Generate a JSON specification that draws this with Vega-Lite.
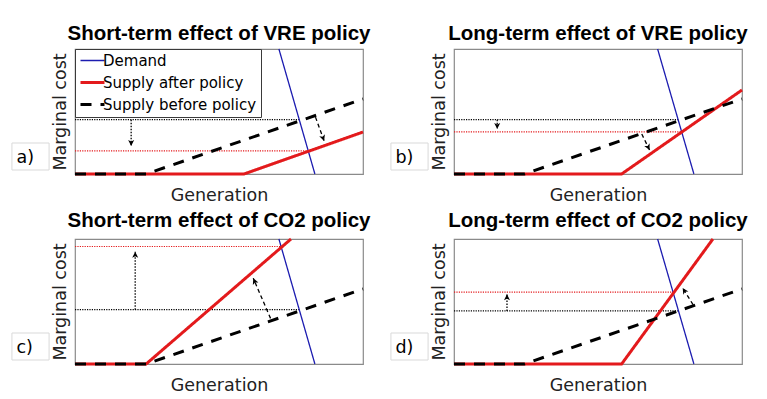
{
  "$schema": "https://vega.github.io/schema/vega-lite/v6.json",
  "background": "white",
  "padding": {"left": 10, "top": 23, "right": 5, "bottom": 5},
  "bounds": "flush",
  "spacing": {"row": 65, "column": 91},
  "columns": 2,
  "datasets": {
    "curves": [
      {"panel": "a", "series": "Demand", "x": 70.8, "y": 100},
      {"panel": "a", "series": "Demand", "x": 83.3, "y": 0},
      {"panel": "a", "series": "Supply after policy", "x": 0, "y": 0},
      {"panel": "a", "series": "Supply after policy", "x": 58.7, "y": 0},
      {"panel": "a", "series": "Supply after policy", "x": 100, "y": 33.6},
      {"panel": "a", "series": "Supply before policy", "x": 0, "y": 0},
      {"panel": "a", "series": "Supply before policy", "x": 24.7, "y": 0},
      {"panel": "a", "series": "Supply before policy", "x": 100, "y": 60},
      {"panel": "b", "series": "Demand", "x": 70.7, "y": 100},
      {"panel": "b", "series": "Demand", "x": 83.3, "y": 0},
      {"panel": "b", "series": "Supply after policy", "x": 0, "y": 0},
      {"panel": "b", "series": "Supply after policy", "x": 58.2, "y": 0},
      {"panel": "b", "series": "Supply after policy", "x": 100, "y": 67.2},
      {"panel": "b", "series": "Supply before policy", "x": 0, "y": 0},
      {"panel": "b", "series": "Supply before policy", "x": 24.4, "y": 0},
      {"panel": "b", "series": "Supply before policy", "x": 100, "y": 60},
      {"panel": "c", "series": "Demand", "x": 70.8, "y": 100},
      {"panel": "c", "series": "Demand", "x": 83.3, "y": 0},
      {"panel": "c", "series": "Supply after policy", "x": 0, "y": 0},
      {"panel": "c", "series": "Supply after policy", "x": 24.7, "y": 0},
      {"panel": "c", "series": "Supply after policy", "x": 75, "y": 100},
      {"panel": "c", "series": "Supply before policy", "x": 0, "y": 0},
      {"panel": "c", "series": "Supply before policy", "x": 24.7, "y": 0},
      {"panel": "c", "series": "Supply before policy", "x": 100, "y": 60},
      {"panel": "d", "series": "Demand", "x": 70.7, "y": 100},
      {"panel": "d", "series": "Demand", "x": 83.3, "y": 0},
      {"panel": "d", "series": "Supply after policy", "x": 0, "y": 0},
      {"panel": "d", "series": "Supply after policy", "x": 58.2, "y": 0},
      {"panel": "d", "series": "Supply after policy", "x": 89.9, "y": 100},
      {"panel": "d", "series": "Supply before policy", "x": 0, "y": 0},
      {"panel": "d", "series": "Supply before policy", "x": 24.4, "y": 0},
      {"panel": "d", "series": "Supply before policy", "x": 100, "y": 60}
    ],
    "guides": [
      {"panel": "a", "kind": "before", "x0": 0, "x1": 78, "y": 43.5},
      {"panel": "a", "kind": "after", "x0": 0, "x1": 81, "y": 18.5},
      {"panel": "b", "kind": "before", "x0": 0, "x1": 78, "y": 43.5},
      {"panel": "b", "kind": "after", "x0": 0, "x1": 79.2, "y": 33.7},
      {"panel": "c", "kind": "before", "x0": 0, "x1": 78, "y": 43.5},
      {"panel": "c", "kind": "after", "x0": 0, "x1": 71.5, "y": 94},
      {"panel": "d", "kind": "before", "x0": 0, "x1": 78, "y": 42.5},
      {"panel": "d", "kind": "after", "x0": 0, "x1": 76.2, "y": 57.5}
    ],
    "arrows": [
      {"panel": "a", "kind": "dotted", "x0": 19.5, "y0": 43.5, "x1": 19.5, "y1": 22.4},
      {"panel": "a", "kind": "dashed", "x0": 83.5, "y0": 45.5, "x1": 86.5, "y1": 26.5},
      {"panel": "b", "kind": "dotted", "x0": 15, "y0": 43.5, "x1": 15, "y1": 36},
      {"panel": "b", "kind": "dashed", "x0": 65.2, "y0": 32, "x1": 67.9, "y1": 19.2},
      {"panel": "c", "kind": "dotted", "x0": 20.9, "y0": 43.5, "x1": 20.9, "y1": 89.8},
      {"panel": "c", "kind": "dashed", "x0": 67.9, "y0": 36.5, "x1": 61.9, "y1": 68.6},
      {"panel": "d", "kind": "dotted", "x0": 18.4, "y0": 42.5, "x1": 18.4, "y1": 55.8},
      {"panel": "d", "kind": "dashed", "x0": 83, "y0": 47.5, "x1": 79.4, "y1": 60.8}
    ],
    "labels": [
      {"panel": "a", "label": "a)", "x": -21.9, "x2": -9, "y": 3.2, "y2": 24.8},
      {"panel": "b", "label": "b)", "x": -21.9, "x2": -9, "y": 3.2, "y2": 24.8},
      {"panel": "c", "label": "c)", "x": -21.9, "x2": -9, "y": 3.2, "y2": 24.8},
      {"panel": "d", "label": "d)", "x": -21.9, "x2": -9, "y": 3.2, "y2": 24.8}
    ]
  },
  "resolve": {
    "scale": {"color": "independent", "strokeDash": "independent"},
    "legend": {"color": "independent", "strokeDash": "independent"}
  },
  "concat": [
    {
      "width": 288, "height": 125,
      "title": "Short-term effect of VRE policy",
      "layer": [
        {"data": {"name": "labels"}, "transform": [{"filter": "datum.panel === 'a'"}],
         "mark": {"type": "rect", "fill": "white", "stroke": "#d9d9d9", "strokeWidth": 1, "clip": false},
         "encoding": {"x": {"field": "x", "type": "quantitative", "scale": {"domain": [0, 100], "nice": false, "zero": false}, "title": "Generation"},
                      "x2": {"field": "x2"},
                      "y": {"field": "y", "type": "quantitative", "scale": {"domain": [0, 100], "nice": false, "zero": false}, "title": "Marginal cost"},
                      "y2": {"field": "y2"}}},
        {"data": {"name": "labels"}, "transform": [{"filter": "datum.panel === 'a'"}],
         "mark": {"type": "text", "align": "left", "baseline": "alphabetic", "dx": 4.5, "dy": -7, "font": "DejaVu Sans", "fontSize": 17.5, "color": "#000", "clip": false},
         "encoding": {"x": {"field": "x", "type": "quantitative", "scale": {"domain": [0, 100]}, "title": "Generation"},
                      "y": {"field": "y", "type": "quantitative", "scale": {"domain": [0, 100]}, "title": "Marginal cost"},
                      "text": {"field": "label"}}},
        {"data": {"name": "guides"}, "transform": [{"filter": "datum.panel === 'a' && datum.kind === 'before'"}],
         "mark": {"type": "rule", "strokeDash": [1.2, 1.2], "strokeWidth": 1.2, "color": "#000000"},
         "encoding": {"x": {"field": "x0", "type": "quantitative", "scale": {"domain": [0, 100]}, "title": "Generation"},
                      "x2": {"field": "x1"},
                      "y": {"field": "y", "type": "quantitative", "scale": {"domain": [0, 100]}, "title": "Marginal cost"}}},
        {"data": {"name": "guides"}, "transform": [{"filter": "datum.panel === 'a' && datum.kind === 'after'"}],
         "mark": {"type": "rule", "strokeDash": [1.2, 1.2], "strokeWidth": 1.2, "color": "#e31a1c"},
         "encoding": {"x": {"field": "x0", "type": "quantitative", "scale": {"domain": [0, 100]}, "title": "Generation"},
                      "x2": {"field": "x1"},
                      "y": {"field": "y", "type": "quantitative", "scale": {"domain": [0, 100]}, "title": "Marginal cost"}}},
        {"data": {"name": "arrows"}, "transform": [{"filter": "datum.panel === 'a' && datum.kind === 'dotted'"}],
         "mark": {"type": "rule", "strokeDash": [1.5, 1.5], "strokeWidth": 1.3, "color": "#000"},
         "encoding": {"x": {"field": "x0", "type": "quantitative", "scale": {"domain": [0, 100]}, "title": "Generation"},
                      "x2": {"field": "x1"},
                      "y": {"field": "y0", "type": "quantitative", "scale": {"domain": [0, 100]}, "title": "Marginal cost"},
                      "y2": {"field": "y1"}}},
        {"data": {"name": "arrows"}, "transform": [{"filter": "datum.panel === 'a' && datum.kind === 'dashed'"}],
         "mark": {"type": "rule", "strokeDash": [4, 3], "strokeWidth": 1.3, "color": "#000"},
         "encoding": {"x": {"field": "x0", "type": "quantitative", "scale": {"domain": [0, 100]}, "title": "Generation"},
                      "x2": {"field": "x1"},
                      "y": {"field": "y0", "type": "quantitative", "scale": {"domain": [0, 100]}, "title": "Marginal cost"},
                      "y2": {"field": "y1"}}},
        {"data": {"name": "arrows"}, "transform": [{"filter": "datum.panel === 'a' && datum.kind === 'dotted'"}],
         "mark": {"type": "point", "shape": "M0,0L-1,-2L0,-1.5L1,-2Z", "filled": true, "size": 36, "color": "#000", "opacity": 1, "angle": 0},
         "encoding": {"x": {"field": "x1", "type": "quantitative", "scale": {"domain": [0, 100]}, "title": "Generation"},
                      "y": {"field": "y1", "type": "quantitative", "scale": {"domain": [0, 100]}, "title": "Marginal cost"}}},
        {"data": {"name": "arrows"}, "transform": [{"filter": "datum.panel === 'a' && datum.kind === 'dashed'"}],
         "mark": {"type": "point", "shape": "M0,0L-1,-2L0,-1.5L1,-2Z", "filled": true, "size": 36, "color": "#000", "opacity": 1, "angle": -20},
         "encoding": {"x": {"field": "x1", "type": "quantitative", "scale": {"domain": [0, 100]}, "title": "Generation"},
                      "y": {"field": "y1", "type": "quantitative", "scale": {"domain": [0, 100]}, "title": "Marginal cost"}}},
        {"data": {"name": "curves"}, "transform": [{"filter": "datum.panel === 'a' && datum.series === 'Demand'"}],
         "mark": {"type": "line", "strokeWidth": 1.3},
         "encoding": {"x": {"field": "x", "type": "quantitative", "scale": {"domain": [0, 100]}, "title": "Generation"},
                      "y": {"field": "y", "type": "quantitative", "scale": {"domain": [0, 100]}, "title": "Marginal cost"},
                      "color": {"field": "series", "type": "nominal", "title": null, "scale": {"domain": ["Demand", "Supply after policy", "Supply before policy"], "range": ["#1c1cb0", "#e31a1c", "#000000"]},
                                "legend": {"orient": "top-left", "encode": {"symbols": {"update": {"strokeWidth": {"signal": "datum.value === 'Demand' ? 1.3 : 3"}}}}}},
                      "strokeDash": {"field": "series", "type": "nominal", "title": null, "scale": {"domain": ["Demand", "Supply after policy", "Supply before policy"], "range": [[1, 0], [1, 0], [11, 9]]},
                                "legend": {"orient": "top-left", "encode": {"symbols": {"update": {"strokeWidth": {"signal": "datum.value === 'Demand' ? 1.3 : 3"}}}}}}}},
        {"data": {"name": "curves"}, "transform": [{"filter": "datum.panel === 'a' && datum.series === 'Supply after policy'"}],
         "mark": {"type": "line", "strokeWidth": 3},
         "encoding": {"x": {"field": "x", "type": "quantitative", "scale": {"domain": [0, 100]}, "title": "Generation"},
                      "y": {"field": "y", "type": "quantitative", "scale": {"domain": [0, 100]}, "title": "Marginal cost"},
                      "color": {"field": "series", "type": "nominal", "title": null},
                      "strokeDash": {"field": "series", "type": "nominal", "title": null}}},
        {"data": {"name": "curves"}, "transform": [{"filter": "datum.panel === 'a' && datum.series === 'Supply before policy'"}],
         "mark": {"type": "line", "strokeWidth": 3},
         "encoding": {"x": {"field": "x", "type": "quantitative", "scale": {"domain": [0, 100]}, "title": "Generation"},
                      "y": {"field": "y", "type": "quantitative", "scale": {"domain": [0, 100]}, "title": "Marginal cost"},
                      "color": {"field": "series", "type": "nominal", "title": null},
                      "strokeDash": {"field": "series", "type": "nominal", "title": null}}}
      ]
    },
    {
      "width": 288, "height": 125,
      "title": "Long-term effect of VRE policy",
      "layer": [
        {"data": {"name": "labels"}, "transform": [{"filter": "datum.panel === 'b'"}],
         "mark": {"type": "rect", "fill": "white", "stroke": "#d9d9d9", "strokeWidth": 1, "clip": false},
         "encoding": {"x": {"field": "x", "type": "quantitative", "scale": {"domain": [0, 100], "nice": false, "zero": false}, "title": "Generation"},
                      "x2": {"field": "x2"},
                      "y": {"field": "y", "type": "quantitative", "scale": {"domain": [0, 100], "nice": false, "zero": false}, "title": "Marginal cost"},
                      "y2": {"field": "y2"}}},
        {"data": {"name": "labels"}, "transform": [{"filter": "datum.panel === 'b'"}],
         "mark": {"type": "text", "align": "left", "baseline": "alphabetic", "dx": 4.5, "dy": -7, "font": "DejaVu Sans", "fontSize": 17.5, "color": "#000", "clip": false},
         "encoding": {"x": {"field": "x", "type": "quantitative", "scale": {"domain": [0, 100]}, "title": "Generation"},
                      "y": {"field": "y", "type": "quantitative", "scale": {"domain": [0, 100]}, "title": "Marginal cost"},
                      "text": {"field": "label"}}},
        {"data": {"name": "guides"}, "transform": [{"filter": "datum.panel === 'b' && datum.kind === 'before'"}],
         "mark": {"type": "rule", "strokeDash": [1.2, 1.2], "strokeWidth": 1.2, "color": "#000000"},
         "encoding": {"x": {"field": "x0", "type": "quantitative", "scale": {"domain": [0, 100]}, "title": "Generation"},
                      "x2": {"field": "x1"},
                      "y": {"field": "y", "type": "quantitative", "scale": {"domain": [0, 100]}, "title": "Marginal cost"}}},
        {"data": {"name": "guides"}, "transform": [{"filter": "datum.panel === 'b' && datum.kind === 'after'"}],
         "mark": {"type": "rule", "strokeDash": [1.2, 1.2], "strokeWidth": 1.2, "color": "#e31a1c"},
         "encoding": {"x": {"field": "x0", "type": "quantitative", "scale": {"domain": [0, 100]}, "title": "Generation"},
                      "x2": {"field": "x1"},
                      "y": {"field": "y", "type": "quantitative", "scale": {"domain": [0, 100]}, "title": "Marginal cost"}}},
        {"data": {"name": "arrows"}, "transform": [{"filter": "datum.panel === 'b' && datum.kind === 'dotted'"}],
         "mark": {"type": "rule", "strokeDash": [1.5, 1.5], "strokeWidth": 1.3, "color": "#000"},
         "encoding": {"x": {"field": "x0", "type": "quantitative", "scale": {"domain": [0, 100]}, "title": "Generation"},
                      "x2": {"field": "x1"},
                      "y": {"field": "y0", "type": "quantitative", "scale": {"domain": [0, 100]}, "title": "Marginal cost"},
                      "y2": {"field": "y1"}}},
        {"data": {"name": "arrows"}, "transform": [{"filter": "datum.panel === 'b' && datum.kind === 'dashed'"}],
         "mark": {"type": "rule", "strokeDash": [4, 3], "strokeWidth": 1.3, "color": "#000"},
         "encoding": {"x": {"field": "x0", "type": "quantitative", "scale": {"domain": [0, 100]}, "title": "Generation"},
                      "x2": {"field": "x1"},
                      "y": {"field": "y0", "type": "quantitative", "scale": {"domain": [0, 100]}, "title": "Marginal cost"},
                      "y2": {"field": "y1"}}},
        {"data": {"name": "arrows"}, "transform": [{"filter": "datum.panel === 'b' && datum.kind === 'dotted'"}],
         "mark": {"type": "point", "shape": "M0,0L-1,-2L0,-1.5L1,-2Z", "filled": true, "size": 36, "color": "#000", "opacity": 1, "angle": 0},
         "encoding": {"x": {"field": "x1", "type": "quantitative", "scale": {"domain": [0, 100]}, "title": "Generation"},
                      "y": {"field": "y1", "type": "quantitative", "scale": {"domain": [0, 100]}, "title": "Marginal cost"}}},
        {"data": {"name": "arrows"}, "transform": [{"filter": "datum.panel === 'b' && datum.kind === 'dashed'"}],
         "mark": {"type": "point", "shape": "M0,0L-1,-2L0,-1.5L1,-2Z", "filled": true, "size": 36, "color": "#000", "opacity": 1, "angle": -26},
         "encoding": {"x": {"field": "x1", "type": "quantitative", "scale": {"domain": [0, 100]}, "title": "Generation"},
                      "y": {"field": "y1", "type": "quantitative", "scale": {"domain": [0, 100]}, "title": "Marginal cost"}}},
        {"data": {"name": "curves"}, "transform": [{"filter": "datum.panel === 'b' && datum.series === 'Demand'"}],
         "mark": {"type": "line", "strokeWidth": 1.3},
         "encoding": {"x": {"field": "x", "type": "quantitative", "scale": {"domain": [0, 100]}, "title": "Generation"},
                      "y": {"field": "y", "type": "quantitative", "scale": {"domain": [0, 100]}, "title": "Marginal cost"},
                      "color": {"field": "series", "type": "nominal", "title": null, "scale": {"domain": ["Demand", "Supply after policy", "Supply before policy"], "range": ["#1c1cb0", "#e31a1c", "#000000"]}, "legend": null},
                      "strokeDash": {"field": "series", "type": "nominal", "title": null, "scale": {"domain": ["Demand", "Supply after policy", "Supply before policy"], "range": [[1, 0], [1, 0], [11, 9]]}, "legend": null}}},
        {"data": {"name": "curves"}, "transform": [{"filter": "datum.panel === 'b' && datum.series === 'Supply after policy'"}],
         "mark": {"type": "line", "strokeWidth": 3},
         "encoding": {"x": {"field": "x", "type": "quantitative", "scale": {"domain": [0, 100]}, "title": "Generation"},
                      "y": {"field": "y", "type": "quantitative", "scale": {"domain": [0, 100]}, "title": "Marginal cost"},
                      "color": {"field": "series", "type": "nominal", "title": null, "legend": null},
                      "strokeDash": {"field": "series", "type": "nominal", "title": null, "legend": null}}},
        {"data": {"name": "curves"}, "transform": [{"filter": "datum.panel === 'b' && datum.series === 'Supply before policy'"}],
         "mark": {"type": "line", "strokeWidth": 3},
         "encoding": {"x": {"field": "x", "type": "quantitative", "scale": {"domain": [0, 100]}, "title": "Generation"},
                      "y": {"field": "y", "type": "quantitative", "scale": {"domain": [0, 100]}, "title": "Marginal cost"},
                      "color": {"field": "series", "type": "nominal", "title": null, "legend": null},
                      "strokeDash": {"field": "series", "type": "nominal", "title": null, "legend": null}}}
      ]
    },
    {
      "width": 288, "height": 125,
      "title": "Short-term effect of CO2 policy",
      "layer": [
        {"data": {"name": "labels"}, "transform": [{"filter": "datum.panel === 'c'"}],
         "mark": {"type": "rect", "fill": "white", "stroke": "#d9d9d9", "strokeWidth": 1, "clip": false},
         "encoding": {"x": {"field": "x", "type": "quantitative", "scale": {"domain": [0, 100], "nice": false, "zero": false}, "title": "Generation"},
                      "x2": {"field": "x2"},
                      "y": {"field": "y", "type": "quantitative", "scale": {"domain": [0, 100], "nice": false, "zero": false}, "title": "Marginal cost"},
                      "y2": {"field": "y2"}}},
        {"data": {"name": "labels"}, "transform": [{"filter": "datum.panel === 'c'"}],
         "mark": {"type": "text", "align": "left", "baseline": "alphabetic", "dx": 4.5, "dy": -7, "font": "DejaVu Sans", "fontSize": 17.5, "color": "#000", "clip": false},
         "encoding": {"x": {"field": "x", "type": "quantitative", "scale": {"domain": [0, 100]}, "title": "Generation"},
                      "y": {"field": "y", "type": "quantitative", "scale": {"domain": [0, 100]}, "title": "Marginal cost"},
                      "text": {"field": "label"}}},
        {"data": {"name": "guides"}, "transform": [{"filter": "datum.panel === 'c' && datum.kind === 'before'"}],
         "mark": {"type": "rule", "strokeDash": [1.2, 1.2], "strokeWidth": 1.2, "color": "#000000"},
         "encoding": {"x": {"field": "x0", "type": "quantitative", "scale": {"domain": [0, 100]}, "title": "Generation"},
                      "x2": {"field": "x1"},
                      "y": {"field": "y", "type": "quantitative", "scale": {"domain": [0, 100]}, "title": "Marginal cost"}}},
        {"data": {"name": "guides"}, "transform": [{"filter": "datum.panel === 'c' && datum.kind === 'after'"}],
         "mark": {"type": "rule", "strokeDash": [1.2, 1.2], "strokeWidth": 1.2, "color": "#e31a1c"},
         "encoding": {"x": {"field": "x0", "type": "quantitative", "scale": {"domain": [0, 100]}, "title": "Generation"},
                      "x2": {"field": "x1"},
                      "y": {"field": "y", "type": "quantitative", "scale": {"domain": [0, 100]}, "title": "Marginal cost"}}},
        {"data": {"name": "arrows"}, "transform": [{"filter": "datum.panel === 'c' && datum.kind === 'dotted'"}],
         "mark": {"type": "rule", "strokeDash": [1.5, 1.5], "strokeWidth": 1.3, "color": "#000"},
         "encoding": {"x": {"field": "x0", "type": "quantitative", "scale": {"domain": [0, 100]}, "title": "Generation"},
                      "x2": {"field": "x1"},
                      "y": {"field": "y0", "type": "quantitative", "scale": {"domain": [0, 100]}, "title": "Marginal cost"},
                      "y2": {"field": "y1"}}},
        {"data": {"name": "arrows"}, "transform": [{"filter": "datum.panel === 'c' && datum.kind === 'dashed'"}],
         "mark": {"type": "rule", "strokeDash": [4, 3], "strokeWidth": 1.3, "color": "#000"},
         "encoding": {"x": {"field": "x0", "type": "quantitative", "scale": {"domain": [0, 100]}, "title": "Generation"},
                      "x2": {"field": "x1"},
                      "y": {"field": "y0", "type": "quantitative", "scale": {"domain": [0, 100]}, "title": "Marginal cost"},
                      "y2": {"field": "y1"}}},
        {"data": {"name": "arrows"}, "transform": [{"filter": "datum.panel === 'c' && datum.kind === 'dotted'"}],
         "mark": {"type": "point", "shape": "M0,0L-1,-2L0,-1.5L1,-2Z", "filled": true, "size": 36, "color": "#000", "opacity": 1, "angle": 180},
         "encoding": {"x": {"field": "x1", "type": "quantitative", "scale": {"domain": [0, 100]}, "title": "Generation"},
                      "y": {"field": "y1", "type": "quantitative", "scale": {"domain": [0, 100]}, "title": "Marginal cost"}}},
        {"data": {"name": "arrows"}, "transform": [{"filter": "datum.panel === 'c' && datum.kind === 'dashed'"}],
         "mark": {"type": "point", "shape": "M0,0L-1,-2L0,-1.5L1,-2Z", "filled": true, "size": 36, "color": "#000", "opacity": 1, "angle": 157},
         "encoding": {"x": {"field": "x1", "type": "quantitative", "scale": {"domain": [0, 100]}, "title": "Generation"},
                      "y": {"field": "y1", "type": "quantitative", "scale": {"domain": [0, 100]}, "title": "Marginal cost"}}},
        {"data": {"name": "curves"}, "transform": [{"filter": "datum.panel === 'c' && datum.series === 'Demand'"}],
         "mark": {"type": "line", "strokeWidth": 1.3},
         "encoding": {"x": {"field": "x", "type": "quantitative", "scale": {"domain": [0, 100]}, "title": "Generation"},
                      "y": {"field": "y", "type": "quantitative", "scale": {"domain": [0, 100]}, "title": "Marginal cost"},
                      "color": {"field": "series", "type": "nominal", "title": null, "scale": {"domain": ["Demand", "Supply after policy", "Supply before policy"], "range": ["#1c1cb0", "#e31a1c", "#000000"]}, "legend": null},
                      "strokeDash": {"field": "series", "type": "nominal", "title": null, "scale": {"domain": ["Demand", "Supply after policy", "Supply before policy"], "range": [[1, 0], [1, 0], [11, 9]]}, "legend": null}}},
        {"data": {"name": "curves"}, "transform": [{"filter": "datum.panel === 'c' && datum.series === 'Supply after policy'"}],
         "mark": {"type": "line", "strokeWidth": 3},
         "encoding": {"x": {"field": "x", "type": "quantitative", "scale": {"domain": [0, 100]}, "title": "Generation"},
                      "y": {"field": "y", "type": "quantitative", "scale": {"domain": [0, 100]}, "title": "Marginal cost"},
                      "color": {"field": "series", "type": "nominal", "title": null, "legend": null},
                      "strokeDash": {"field": "series", "type": "nominal", "title": null, "legend": null}}},
        {"data": {"name": "curves"}, "transform": [{"filter": "datum.panel === 'c' && datum.series === 'Supply before policy'"}],
         "mark": {"type": "line", "strokeWidth": 3},
         "encoding": {"x": {"field": "x", "type": "quantitative", "scale": {"domain": [0, 100]}, "title": "Generation"},
                      "y": {"field": "y", "type": "quantitative", "scale": {"domain": [0, 100]}, "title": "Marginal cost"},
                      "color": {"field": "series", "type": "nominal", "title": null, "legend": null},
                      "strokeDash": {"field": "series", "type": "nominal", "title": null, "legend": null}}}
      ]
    },
    {
      "width": 288, "height": 125,
      "title": "Long-term effect of CO2 policy",
      "layer": [
        {"data": {"name": "labels"}, "transform": [{"filter": "datum.panel === 'd'"}],
         "mark": {"type": "rect", "fill": "white", "stroke": "#d9d9d9", "strokeWidth": 1, "clip": false},
         "encoding": {"x": {"field": "x", "type": "quantitative", "scale": {"domain": [0, 100], "nice": false, "zero": false}, "title": "Generation"},
                      "x2": {"field": "x2"},
                      "y": {"field": "y", "type": "quantitative", "scale": {"domain": [0, 100], "nice": false, "zero": false}, "title": "Marginal cost"},
                      "y2": {"field": "y2"}}},
        {"data": {"name": "labels"}, "transform": [{"filter": "datum.panel === 'd'"}],
         "mark": {"type": "text", "align": "left", "baseline": "alphabetic", "dx": 4.5, "dy": -7, "font": "DejaVu Sans", "fontSize": 17.5, "color": "#000", "clip": false},
         "encoding": {"x": {"field": "x", "type": "quantitative", "scale": {"domain": [0, 100]}, "title": "Generation"},
                      "y": {"field": "y", "type": "quantitative", "scale": {"domain": [0, 100]}, "title": "Marginal cost"},
                      "text": {"field": "label"}}},
        {"data": {"name": "guides"}, "transform": [{"filter": "datum.panel === 'd' && datum.kind === 'before'"}],
         "mark": {"type": "rule", "strokeDash": [1.2, 1.2], "strokeWidth": 1.2, "color": "#000000"},
         "encoding": {"x": {"field": "x0", "type": "quantitative", "scale": {"domain": [0, 100]}, "title": "Generation"},
                      "x2": {"field": "x1"},
                      "y": {"field": "y", "type": "quantitative", "scale": {"domain": [0, 100]}, "title": "Marginal cost"}}},
        {"data": {"name": "guides"}, "transform": [{"filter": "datum.panel === 'd' && datum.kind === 'after'"}],
         "mark": {"type": "rule", "strokeDash": [1.2, 1.2], "strokeWidth": 1.2, "color": "#e31a1c"},
         "encoding": {"x": {"field": "x0", "type": "quantitative", "scale": {"domain": [0, 100]}, "title": "Generation"},
                      "x2": {"field": "x1"},
                      "y": {"field": "y", "type": "quantitative", "scale": {"domain": [0, 100]}, "title": "Marginal cost"}}},
        {"data": {"name": "arrows"}, "transform": [{"filter": "datum.panel === 'd' && datum.kind === 'dotted'"}],
         "mark": {"type": "rule", "strokeDash": [1.5, 1.5], "strokeWidth": 1.3, "color": "#000"},
         "encoding": {"x": {"field": "x0", "type": "quantitative", "scale": {"domain": [0, 100]}, "title": "Generation"},
                      "x2": {"field": "x1"},
                      "y": {"field": "y0", "type": "quantitative", "scale": {"domain": [0, 100]}, "title": "Marginal cost"},
                      "y2": {"field": "y1"}}},
        {"data": {"name": "arrows"}, "transform": [{"filter": "datum.panel === 'd' && datum.kind === 'dashed'"}],
         "mark": {"type": "rule", "strokeDash": [4, 3], "strokeWidth": 1.3, "color": "#000"},
         "encoding": {"x": {"field": "x0", "type": "quantitative", "scale": {"domain": [0, 100]}, "title": "Generation"},
                      "x2": {"field": "x1"},
                      "y": {"field": "y0", "type": "quantitative", "scale": {"domain": [0, 100]}, "title": "Marginal cost"},
                      "y2": {"field": "y1"}}},
        {"data": {"name": "arrows"}, "transform": [{"filter": "datum.panel === 'd' && datum.kind === 'dotted'"}],
         "mark": {"type": "point", "shape": "M0,0L-1,-2L0,-1.5L1,-2Z", "filled": true, "size": 36, "color": "#000", "opacity": 1, "angle": 180},
         "encoding": {"x": {"field": "x1", "type": "quantitative", "scale": {"domain": [0, 100]}, "title": "Generation"},
                      "y": {"field": "y1", "type": "quantitative", "scale": {"domain": [0, 100]}, "title": "Marginal cost"}}},
        {"data": {"name": "arrows"}, "transform": [{"filter": "datum.panel === 'd' && datum.kind === 'dashed'"}],
         "mark": {"type": "point", "shape": "M0,0L-1,-2L0,-1.5L1,-2Z", "filled": true, "size": 36, "color": "#000", "opacity": 1, "angle": 148},
         "encoding": {"x": {"field": "x1", "type": "quantitative", "scale": {"domain": [0, 100]}, "title": "Generation"},
                      "y": {"field": "y1", "type": "quantitative", "scale": {"domain": [0, 100]}, "title": "Marginal cost"}}},
        {"data": {"name": "curves"}, "transform": [{"filter": "datum.panel === 'd' && datum.series === 'Demand'"}],
         "mark": {"type": "line", "strokeWidth": 1.3},
         "encoding": {"x": {"field": "x", "type": "quantitative", "scale": {"domain": [0, 100]}, "title": "Generation"},
                      "y": {"field": "y", "type": "quantitative", "scale": {"domain": [0, 100]}, "title": "Marginal cost"},
                      "color": {"field": "series", "type": "nominal", "title": null, "scale": {"domain": ["Demand", "Supply after policy", "Supply before policy"], "range": ["#1c1cb0", "#e31a1c", "#000000"]}, "legend": null},
                      "strokeDash": {"field": "series", "type": "nominal", "title": null, "scale": {"domain": ["Demand", "Supply after policy", "Supply before policy"], "range": [[1, 0], [1, 0], [11, 9]]}, "legend": null}}},
        {"data": {"name": "curves"}, "transform": [{"filter": "datum.panel === 'd' && datum.series === 'Supply after policy'"}],
         "mark": {"type": "line", "strokeWidth": 3},
         "encoding": {"x": {"field": "x", "type": "quantitative", "scale": {"domain": [0, 100]}, "title": "Generation"},
                      "y": {"field": "y", "type": "quantitative", "scale": {"domain": [0, 100]}, "title": "Marginal cost"},
                      "color": {"field": "series", "type": "nominal", "title": null, "legend": null},
                      "strokeDash": {"field": "series", "type": "nominal", "title": null, "legend": null}}},
        {"data": {"name": "curves"}, "transform": [{"filter": "datum.panel === 'd' && datum.series === 'Supply before policy'"}],
         "mark": {"type": "line", "strokeWidth": 3},
         "encoding": {"x": {"field": "x", "type": "quantitative", "scale": {"domain": [0, 100]}, "title": "Generation"},
                      "y": {"field": "y", "type": "quantitative", "scale": {"domain": [0, 100]}, "title": "Marginal cost"},
                      "color": {"field": "series", "type": "nominal", "title": null, "legend": null},
                      "strokeDash": {"field": "series", "type": "nominal", "title": null, "legend": null}}}
      ]
    }
  ],
  "config": {
    "view": {"stroke": "#8a8a8a", "strokeWidth": 1.2},
    "title": {"font": "Liberation Sans", "fontSize": 20.5, "fontWeight": "bold", "color": "#000000", "anchor": "middle", "offset": 2},
    "axis": {"titleFont": "DejaVu Sans", "titleFontSize": 17.5, "titleFontWeight": "normal", "titleColor": "#222222", "ticks": false, "labels": false, "domain": false, "grid": false},
    "axisX": {"titlePadding": 12},
    "axisY": {"titlePadding": 6},
    "legend": {"offset": 0, "padding": 4, "strokeColor": "#3a3a3a", "fillColor": "white", "labelFont": "DejaVu Sans", "labelFontSize": 15, "labelColor": "#000000", "symbolType": "M-2,0L2,0", "symbolSize": 144, "symbolOffset": 6, "rowPadding": 6, "labelOffset": 3, "labelLimit": 300, "symbolOpacity": 1}
  }
}
